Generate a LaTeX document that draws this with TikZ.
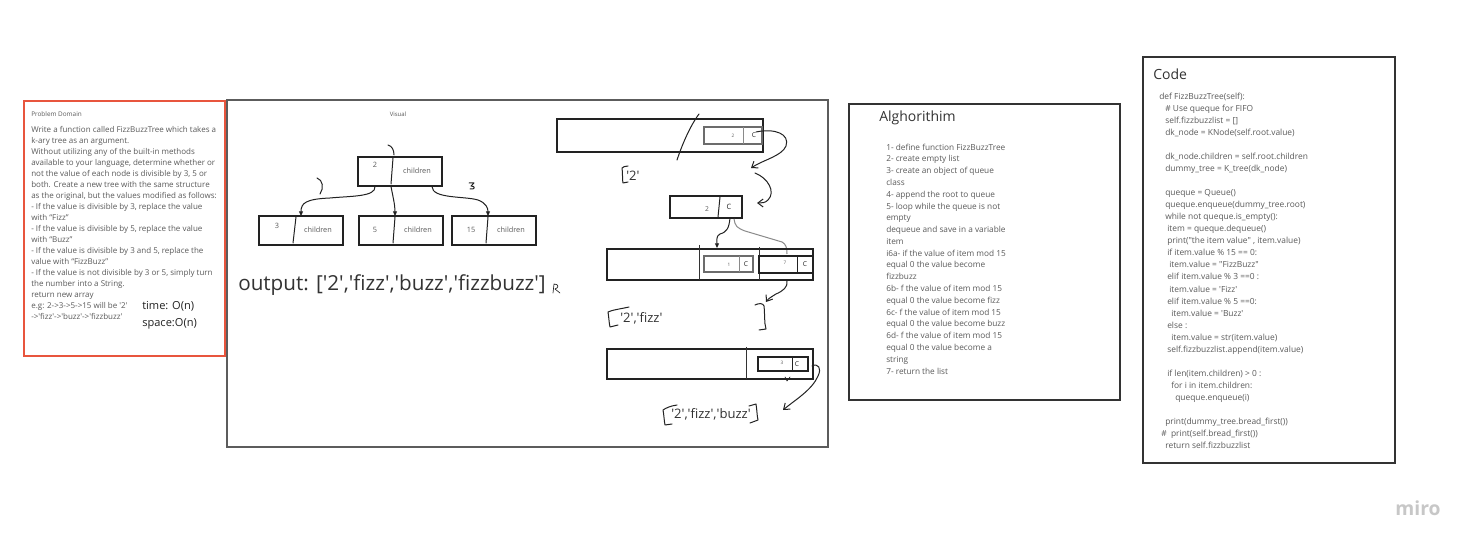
\documentclass[tikz,border=0pt]{standalone}
\usepackage{fontspec}
\newfontfamily\os{Open Sans}
\usetikzlibrary{arrows.meta,fit}
\definecolor{pdred}{HTML}{E8553D}
\definecolor{tg}{HTML}{5A5A5A}
\definecolor{dk}{HTML}{333333}
\definecolor{ink}{HTML}{222222}
\definecolor{gline}{HTML}{8A8A8A}
\tikzset{
  frame/.style={draw=#1, inner sep=0pt, line width=0.8pt},
  tbox/.style={draw=ink, inner sep=0pt, line width=0.8pt},
  ibox/.style={draw=gray!85!black, inner sep=0pt, line width=1.1pt},
  txt/.style={inner sep=0pt, text=tg},
  hand/.style={draw=ink, line width=0.75pt, line cap=round, line join=round},
  tri/.style={-{Triangle[length=3.5pt,width=3pt]}},
  barb/.style={-{Straight Barb[length=4pt,width=6pt]}},
}
\begin{document}
\begin{tikzpicture}[x=0.75pt,y=-0.75pt]
\useasboundingbox (0,0) rectangle (1476,548);
\fill[white] (0,0) rectangle (1476,548);

% ---------------- Problem domain ----------------
\node[frame=pdred, line width=1.6pt, fit={(24,101)(225,356)}] (pd) {};
\node[txt, anchor=west, font=\os\fontsize{4.8pt}{5pt}\selectfont] (pdt) at (31,114) {Problem Domain};
\node[txt, anchor=north west, align=left, font=\os\fontsize{6pt}{8.22pt}\selectfont] (pdb) at (31,126.5)
{Write a function called FizzBuzzTree which takes a\\
k-ary tree as an argument.\\
Without utilizing any of the built-in methods\\
available to your language, determine whether or\\
not the value of each node is divisible by 3, 5 or\\
both. Create a new tree with the same structure\\
as the original, but the values modified as follows:\\
- If the value is divisible by 3, replace the value\\
with “Fizz”\\
- If the value is divisible by 5, replace the value\\
with “Buzz”\\
- If the value is divisible by 3 and 5, replace the\\
value with “FizzBuzz”\\
- If the value is not divisible by 3 or 5, simply turn\\
the number into a String.\\
return new array\\
e.g: 2->3->5->15 will be '2'\\
->'fizz'->'buzz'->'fizzbuzz'};
\node[txt, text=ink, anchor=west, font=\os\fontsize{8.3pt}{9pt}\selectfont] (time) at (142,306) {time: O(n)};
\node[txt, text=ink, anchor=west, font=\os\fontsize{8.3pt}{9pt}\selectfont] (space) at (142,324) {space:O(n)};

% ---------------- Visual ----------------
\node[frame=dk!80, line width=1.1pt, fit={(227,100)(828,447)}] (vis) {};
\node[txt, font=\os\fontsize{4.5pt}{5pt}\selectfont] (vist) at (398,114) {Visual};

% tree
\node[tbox, fit={(358,157)(442,186)}] (root) {};
\node[tbox, fit={(259,216)(343,245)}] (c1) {};
\node[tbox, fit={(359,216)(443,245)}] (c2) {};
\node[tbox, fit={(452,216)(536,245)}] (c3) {};
\draw[hand] (388,145) .. controls (392,146) and (394,150) .. (394,155);
\draw[hand] (393,158) -- (391,184);
\draw[hand] (296,217) -- (293,243);
\draw[hand] (395,217) -- (393,243);
\draw[hand] (488,217) -- (486,243);
\node[txt, font=\os\fontsize{5.5pt}{6pt}\selectfont] (rv) at (375,165) {2};
\node[txt, font=\os\fontsize{5.5pt}{6pt}\selectfont] (rc) at (417,171) {children};
\node[txt, font=\os\fontsize{5.5pt}{6pt}\selectfont] (c1v) at (277,226) {3};
\node[txt, font=\os\fontsize{5.5pt}{6pt}\selectfont] (c1c) at (318,230) {children};
\node[txt, font=\os\fontsize{5.5pt}{6pt}\selectfont] (c2v) at (375,230) {5};
\node[txt, font=\os\fontsize{5.5pt}{6pt}\selectfont] (c2c) at (418,230) {children};
\node[txt, font=\os\fontsize{5.5pt}{6pt}\selectfont] (c3v) at (471,230) {15};
\node[txt, font=\os\fontsize{5.5pt}{6pt}\selectfont] (c3c) at (511,230) {children};
\coordinate (rL) at (375,186.5);
\coordinate (rM) at (391,186.5);
\coordinate (rR) at (432,186.5);
\coordinate (c1t) at (301,216);
\coordinate (c2t) at (395,216);
\coordinate (c3t) at (488,216);
\draw[hand,tri] (rL) .. controls (376,197) and (350,196) .. (330,198) .. controls (306,199) and (301,203) .. (c1t);
\draw[hand,tri] (rM) .. controls (393,197) and (395,205) .. (c2t);
\draw[hand,tri] (rR) .. controls (432,199) and (465,196) .. (478,200) .. controls (486,203) and (488,208) .. (c3t);
% hand marks
\draw[hand] (317,178) .. controls (323,180) and (324,188) .. (320,194);
\draw[hand] (469,183) -- (474,183) -- (471,186) .. controls (476,186) and (475,190) .. (470,189);

% output
\node[txt, text=dk, anchor=west, font=\os\fontsize{15.5pt}{17pt}\selectfont] (out) at (238,285) {output: ['2','fizz','buzz','fizzbuzz']};
\draw[hand, line width=0.5pt] (553,293) -- (554,284) .. controls (559,284) and (559,288) .. (555,289) -- (560,293);

% queue 1
\node[tbox, fit={(557,119)(763,152)}] (q1) {};
\node[ibox, fit={(704,127)(762,144)}] (q1a) {};
\draw[gline, line width=0.6pt] (743,127) -- (743,144);
\node[txt, font=\os\fontsize{3.5pt}{4pt}\selectfont] (q1av) at (733,136) {2};
\node[txt, text=ink, font=\os\fontsize{5pt}{6pt}\selectfont] (q1ac) at (754,135) {C};
\draw[hand] (699,114) .. controls (690,126) and (682,145) .. (677,160);
\coordinate (q1s) at (756,132);
\coordinate (q1e) at (751,168);
\draw[hand,barb] (q1s) .. controls (775,128) and (790,134) .. (786,146) .. controls (782,156) and (763,160) .. (q1e);
\draw[hand] (628,166) .. controls (625,166) and (623,167) .. (622,168) .. controls (623,174) and (622,179) .. (623,183) -- (628,182);
\node[txt, text=dk, anchor=west, font=\os\fontsize{9.8pt}{10pt}\selectfont] (l1) at (626,176) {'2'};
\coordinate (a2s) at (755,173);
\coordinate (a2e) at (757,203);
\draw[hand,barb] (a2s) .. controls (768,178) and (776,192) .. (768,200) .. controls (765,203) and (762,203) .. (a2e);

% box 2
\node[tbox, fit={(670,196)(742,218)}] (b2) {};
\draw[hand] (720,197) -- (718,217);
\node[txt, font=\os\fontsize{5pt}{6pt}\selectfont] (b2v) at (707,209) {2};
\node[txt, text=ink, font=\os\fontsize{5.5pt}{6pt}\selectfont] (b2c) at (729,207) {C};
\coordinate (b2s) at (730,218);
\coordinate (b2e) at (717,248);
\draw[hand,tri] (b2s) .. controls (729,228) and (727,232) .. (720,234) .. controls (716,236) and (717,240) .. (b2e);
\coordinate (b2g) at (734,219);
\coordinate (b2h) at (787,254);
\draw[gline, line width=0.75pt] (b2g) .. controls (735,226) and (737,228) .. (745,231) -- (782,242) .. controls (786,244) and (787,248) .. (b2h);

% queue 3
\node[tbox, fit={(607,249)(813,280)}] (q3) {};
\draw[dk, line width=0.6pt] (699,245) -- (699,280);
\draw[dk, line width=0.6pt] (759,247) -- (759,280);
\node[ibox, fit={(704,256)(753,272)}] (q3a) {};
\draw[gline, line width=0.6pt] (739,256) -- (739,272);
\node[txt, font=\os\fontsize{3.5pt}{4pt}\selectfont] (q3av) at (729,265) {1};
\node[txt, text=ink, font=\os\fontsize{5pt}{6pt}\selectfont] (q3ac) at (746,264) {C};
\node[tbox, line width=1.1pt, fit={(759,256)(813,273)}] (q3b) {};
\draw[ink, line width=0.6pt] (797,256) -- (797,273);
\node[txt, font=\os\fontsize{3.5pt}{4pt}\selectfont] (q3bv) at (785,263) {7};
\node[txt, text=ink, font=\os\fontsize{5pt}{6pt}\selectfont] (q3bc) at (805,264) {C};
\coordinate (a4s) at (787,281);
\coordinate (a4e) at (766,302);
\draw[hand,barb] (a4s) .. controls (788,287) and (783,291) .. (776,294) .. controls (771,297) and (768,299) .. (a4e);
\draw[hand] (755,305) .. controls (759,303) and (763,303) .. (764,306) .. controls (765,315) and (764,322) .. (766,329) -- (759,330);
\draw[hand] (629,307) .. controls (620,309) and (612,310) .. (608,312) .. controls (609,318) and (609,323) .. (610,327) -- (618,325);
\node[txt, text=dk, anchor=west, font=\os\fontsize{9.8pt}{10pt}\selectfont] (l2) at (620,318) {'2','fizz'};

% queue 4
\node[tbox, fit={(607,349)(813,379)}] (q4) {};
\draw[dk, line width=0.6pt] (746,347) -- (746,379);
\node[tbox, line width=1.0pt, fit={(758,357)(808,371)}] (q4a) {};
\draw[ink, line width=0.6pt] (792,357) -- (792,371);
\node[txt, font=\os\fontsize{3.5pt}{4pt}\selectfont] (q4av) at (782,363) {3};
\node[txt, text=ink, font=\os\fontsize{5pt}{6pt}\selectfont] (q4ac) at (797,364) {C};
\draw[hand, line width=0.5pt] (785,377) -- (787,381) -- (790,377);
\coordinate (a5s) at (812,366);
\coordinate (a5e) at (783,410);
\draw[hand,barb] (a5s) .. controls (818,363) and (822,368) .. (818,376) .. controls (812,390) and (795,400) .. (a5e);
\draw[hand] (677,405) .. controls (670,406) and (666,408) .. (663,410) .. controls (664,415) and (664,420) .. (665,425) -- (672,424);
\draw[hand] (749,406) -- (756,404) .. controls (757,410) and (757,416) .. (758,420) -- (750,423);
\node[txt, text=dk, anchor=west, font=\os\fontsize{9.8pt}{10pt}\selectfont] (l3) at (671,414) {'2','fizz','buzz'};

% ---------------- Algorithm ----------------
\node[frame=dk, fit={(849,104)(1120,400)}] (alg) {};
\node[txt, text=dk, anchor=west, font=\os\fontsize{10.5pt}{11pt}\selectfont] (algt) at (879,118) {Alghorithim};
\node[txt, anchor=north west, align=left, font=\os\fontsize{6.2pt}{8.84pt}\selectfont] (algb) at (886,143.5)
{1- define function FizzBuzzTree\\
2- create empty list\\
3- create an object of queue\\
class\\
4- append the root to queue\\
5- loop while the queue is not\\
empty\\
dequeue and save in a variable\\
item\\
i6a- if the value of item mod 15\\
equal 0 the value become\\
fizzbuzz\\
6b- f the value of item mod 15\\
equal 0 the value become fizz\\
6c- f the value of item mod 15\\
equal 0 the value become buzz\\
6d- f the value of item mod 15\\
equal 0 the value become a\\
string\\
7- return the list};

% ---------------- Code ----------------
\node[frame=dk, fit={(1143,57)(1395,463)}] (code) {};
\node[txt, text=dk, anchor=west, font=\os\fontsize{10.5pt}{12pt}\selectfont] (codet) at (1153,74) {Code};
\node[txt, anchor=north west, align=left, font=\os\fontsize{6.3pt}{9.04pt}\selectfont] (codeb) at (1159,92.5)
{def FizzBuzzTree(self):\\
\hspace*{4.5pt}\# Use queque for FIFO\\
\hspace*{4.5pt}self.fizzbuzzlist = []\\
\hspace*{4.5pt}dk\_node = KNode(self.root.value)\\
\mbox{}\\
\hspace*{4.5pt}dk\_node.children = self.root.children\\
\hspace*{4.5pt}dummy\_tree = K\_tree(dk\_node)\\
\mbox{}\\
\hspace*{4.5pt}queque = Queue()\\
\hspace*{4.5pt}queque.enqueue(dummy\_tree.root)\\
\hspace*{4.5pt}while not queque.is\_empty():\\
\hspace*{6pt}item = queque.dequeue()\\
\hspace*{6pt}print("the item value" , item.value)\\
\hspace*{6pt}if item.value \% 15 == 0:\\
\hspace*{7.5pt}item.value = "FizzBuzz"\\
\hspace*{6pt}elif item.value \% 3 ==0 :\\
\hspace*{7.5pt}item.value = 'Fizz'\\
\hspace*{6pt}elif item.value \% 5 ==0:\\
\hspace*{9pt}item.value = 'Buzz'\\
\hspace*{6pt}else :\\
\hspace*{9pt}item.value = str(item.value)\\
\hspace*{6pt}self.fizzbuzzlist.append(item.value)\\
\mbox{}\\
\hspace*{6pt}if len(item.children) > 0 :\\
\hspace*{9pt}for i in item.children:\\
\hspace*{12pt}queque.enqueue(i)\\
\mbox{}\\
\hspace*{4.5pt}print(dummy\_tree.bread\_first())\\
\hspace*{1.5pt}\#\ \ print(self.bread\_first())\\
\hspace*{4.5pt}return self.fizzbuzzlist};

% miro logo
\node[txt, text=black!22, font=\os\bfseries\fontsize{14.5pt}{15pt}\selectfont] (miro) at (1418,508) {miro};
\end{tikzpicture}
\end{document}
